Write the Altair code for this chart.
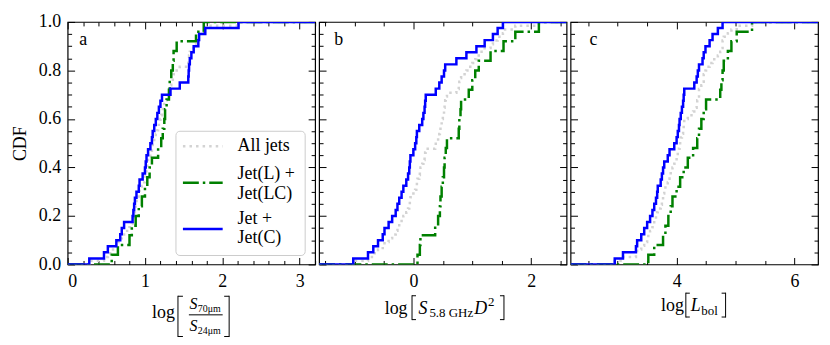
import altair as alt
import pandas as pd

# ---------------- data ----------------
SERIES = ["All jets", "Jet(L) + Jet(LC)", "Jet + Jet(C)"]

# panel a : log(S70/S24)
a_green = [0.57, 0.65, 0.80, 0.83, 0.88, 0.92, 0.96, 1.00, 1.03, 1.06, 1.09, 1.17, 1.21,
           1.23, 1.25, 1.26, 1.28, 1.31, 1.32, 1.34, 1.36, 1.37, 1.41, 1.66, 1.76]
a_blue = [0.28, 0.47, 0.52, 0.63, 0.68, 0.70, 0.73, 0.84, 0.85, 0.86, 0.87, 0.89, 0.92,
          0.93, 0.97, 1.00, 1.01, 1.02, 1.04, 1.07, 1.09, 1.10, 1.12, 1.14, 1.16, 1.18,
          1.20, 1.22, 1.33, 1.45, 1.56, 1.565, 1.57, 1.58, 1.60, 1.63, 1.69, 1.70, 1.78, 2.21]

# panel b : log(S5.8GHz D^2)
b_green = [0.07, 0.11, 0.12, 0.37, 0.42, 0.45, 0.46, 0.48, 0.50, 0.52, 0.53, 0.55, 0.57,
           0.77, 0.78, 0.80, 0.81, 0.94, 1.00, 1.05, 1.11, 1.31, 1.53, 1.73, 2.13]
b_blue = [-1.02, -0.77, -0.68, -0.60, -0.52, -0.49, -0.42, -0.36, -0.30, -0.27, -0.24,
          -0.20, -0.17, -0.12, -0.09, -0.07, -0.06, -0.05, 0.00, 0.03, 0.05, 0.06, 0.10,
          0.15, 0.17, 0.19, 0.20, 0.21, 0.38, 0.44, 0.48, 0.52, 0.54, 0.73, 0.90, 1.07,
          1.21, 1.35, 1.43, 1.52]

# panel c : log(Lbol)
c_green = [3.52, 3.62, 3.77, 3.81, 3.86, 3.90, 3.93, 4.00, 4.06, 4.12, 4.19, 4.28, 4.35,
           4.38, 4.42, 4.46, 4.50, 4.74, 4.76, 4.78, 4.80, 4.87, 4.93, 5.02, 5.28]
c_blue = [2.95, 3.09, 3.31, 3.33, 3.40, 3.45, 3.50, 3.55, 3.59, 3.62, 3.65, 3.67, 3.68,
          3.73, 3.75, 3.77, 3.79, 3.85, 3.88, 3.96, 4.00, 4.02, 4.04, 4.05, 4.07, 4.09,
          4.11, 4.12, 4.13, 4.30, 4.34, 4.36, 4.38, 4.44, 4.46, 4.49, 4.56, 4.61, 4.70, 4.78]

x_domain = {"a": [0, 3.2], "b": [-1.6, 2.6], "c": [2.2, 6.4]}
x_major = {"a": [0, 1, 2, 3], "b": [0, 2], "c": [4, 6]}
x_minor = {
    "a": [0.2, 0.4, 0.6, 0.8, 1.2, 1.4, 1.6, 1.8, 2.2, 2.4, 2.6, 2.8, 3.2],
    "b": [-1.5, -1.0, -0.5, 0.5, 1.0, 1.5, 2.5],
    "c": [2.5, 3.0, 3.5, 4.5, 5.0, 5.5],
}
y_major = [0.0, 0.2, 0.4, 0.6, 0.8, 1.0]
y_minor = [0.05, 0.1, 0.15, 0.25, 0.3, 0.35, 0.45, 0.5, 0.55, 0.65, 0.7, 0.75, 0.85, 0.9, 0.95]

# ---------------- style ----------------
W, H = 249, 244
FONT = "Liberation Serif"
FS = 18
GRAY, GREEN, BLUE = "#d3d3d3", "#008000", "#0000ff"
DOT = [2.5, 4.1]
DASHDOT = [16, 4, 2.5, 4]
DUMMY = pd.DataFrame({"d": [0]})


def cdf_frame(values, lo, hi):
    v = sorted(values)
    n = len(v)
    xs = [lo] + v + [hi]
    ys = [0.0] + [(i + 1) / n for i in range(n)] + [1.0]
    return pd.DataFrame({"x": xs, "y": ys, "o": list(range(len(xs)))})


def tick_axis(orient, values, size, offset):
    return alt.Axis(orient=orient, offset=offset, values=values, labels=False,
                    domain=False, grid=False, ticks=True, tickSize=size,
                    tickColor="black", tickWidth=1, title=None)


def text(t, x, y, size=FS, style="normal", align="left", baseline="alphabetic"):
    return alt.Chart(DUMMY).mark_text(text=t, font=FONT, fontSize=size, fontStyle=style,
                                      align=align, baseline=baseline, color="black"
                                      ).encode(x=alt.value(x), y=alt.value(y))


def hrule(x1, x2, y, color="black", width=1.0, dash=None):
    kw = {"strokeDash": dash} if dash else {}
    return alt.Chart(DUMMY).mark_rule(color=color, strokeWidth=width, **kw).encode(
        x=alt.value(x1), x2=alt.value(x2), y=alt.value(y))


def vrule(x, y1, y2, width=1.0):
    return alt.Chart(DUMMY).mark_rule(color="black", strokeWidth=width).encode(
        x=alt.value(x), y=alt.value(y1), y2=alt.value(y2))


def bracket(x, y1, y2, serif):
    # thin square bracket; serif > 0 opens right "[", serif < 0 opens left "]"
    return [vrule(x, y1, y2), hrule(x, x + serif, y1 + 0.5), hrule(x, x + serif, y2 - 0.5)]


def panel(key, green, blue, letter_x, title_layers, show_y, legend):
    lo, hi = x_domain[key]
    sx = alt.Scale(domain=[lo, hi], nice=False, zero=False)
    sy = alt.Scale(domain=[0, 1], nice=False, zero=False)
    d_all = cdf_frame(green + blue, lo, hi)
    d_green = cdf_frame(green, lo, hi)
    d_blue = cdf_frame(blue, lo, hi)

    def line(df, color, xa, ya, dash=None, opacity=1.0):
        kw = {"strokeDash": dash} if dash else {}
        return alt.Chart(df).mark_line(interpolate="step-after", clip=True, color=color,
                                       strokeWidth=2.5, opacity=opacity, **kw).encode(
            x=alt.X("x:Q", scale=sx, axis=xa),
            y=alt.Y("y:Q", scale=sy, axis=ya),
            order="o:Q")

    x_lab = alt.Axis(orient="bottom", values=x_major[key], format="d", ticks=False,
                     tickSize=0, domain=False, grid=False, labelPadding=8,
                     labelFontSize=FS, labelFont=FONT, labelColor="black", title=None)
    if show_y:
        y_lab = alt.Axis(orient="left", values=y_major, format=".1f", ticks=False,
                         tickSize=0, domain=False, grid=False, labelPadding=7,
                         labelFontSize=FS, labelFont=FONT, labelColor="black",
                         title="CDF", titleFont=FONT, titleFontSize=FS,
                         titleFontWeight="normal", titleColor="black", titlePadding=9)
    else:
        y_lab = None

    layers = [
        line(d_all, GRAY, x_lab, y_lab, dash=DOT),
        line(d_green, GREEN, tick_axis("top", x_major[key], 7, -H),
             tick_axis("right", y_major, 7, -W), dash=DASHDOT),
        line(d_blue, BLUE, tick_axis("top", x_minor[key], 4, -H),
             tick_axis("right", y_minor, 4, -W)),
        line(d_all, GRAY, tick_axis("bottom", x_major[key], 7, -H),
             tick_axis("left", y_major, 7, -W), opacity=0),
        line(d_all, GRAY, tick_axis("bottom", x_minor[key], 4, -H),
             tick_axis("left", y_minor, 4, -W), opacity=0),
        text(key, letter_x, 22.7),
    ]
    layers += title_layers
    if legend:
        box = alt.Chart(DUMMY).mark_rect(fill="white", fillOpacity=0.85, stroke="#cccccc",
                                         strokeWidth=1, cornerRadius=4).encode(
            x=alt.value(109), x2=alt.value(239), y=alt.value(110), y2=alt.value(235))
        layers += [
            box,
            hrule(116, 156, 125, GRAY, 2.5, DOT),
            hrule(116, 156, 161.7, GREEN, 2.5, DASHDOT),
            hrule(116, 156, 208.3, BLUE, 2.5),
            text("All jets", 171, 125, baseline="middle"),
            text("Jet(L) +", 171, 153.3, baseline="middle"),
            text("Jet(LC)", 171, 172.7, baseline="middle"),
            text("Jet +", 171, 198.3, baseline="middle"),
            text("Jet(C)", 171, 217.3, baseline="middle"),
        ]
    return alt.layer(*layers).resolve_axis(x="independent", y="independent").properties(
        width=W, height=H)


title_a = [
    text("log", 85, 297.8),
    *bracket(111, 275.5, 317, 5),
    text("S", 122.7, 289, size=16, style="italic"),
    text("70μm", 131, 292, size=10),
    hrule(122, 156, 294.7),
    text("S", 122.7, 310.6, size=16, style="italic"),
    text("24μm", 131, 313.6, size=10),
    *bracket(162.5, 275.5, 317, -5),
]
title_b = [
    text("log", 66, 293.4),
    *bracket(93.5, 275, 300, 4),
    text("S", 100, 293.4, style="italic"),
    text("5.8 GHz", 111, 297, size=13),
    text("D", 156, 293.4, style="italic"),
    text("2", 170, 286, size=13),
    *bracket(186, 275, 300, -4),
]
title_c = [
    text("log", 91, 290.8),
    *bracket(116, 272.4, 297.4, 4),
    text("L", 121, 290.8, style="italic"),
    text("bol", 131.5, 294.5, size=13),
    *bracket(156, 272.4, 297.4, -4),
]

pa = panel("a", a_green, a_blue, 11.7, title_a, True, True)
pb = panel("b", b_green, b_blue, 15.3, title_b, False, False)
pc = panel("c", c_green, c_blue, 19, title_c, False, False)

chart = alt.hconcat(pa, pb, pc, spacing=0).properties(
    padding={"left": 2, "top": 3, "right": 2, "bottom": 2}
).configure_view(stroke="black", strokeWidth=1.2).configure_axis(
    labelFont=FONT, titleFont=FONT)

chart.save("out.html", embed_options={"renderer": "svg", "actions": False})
